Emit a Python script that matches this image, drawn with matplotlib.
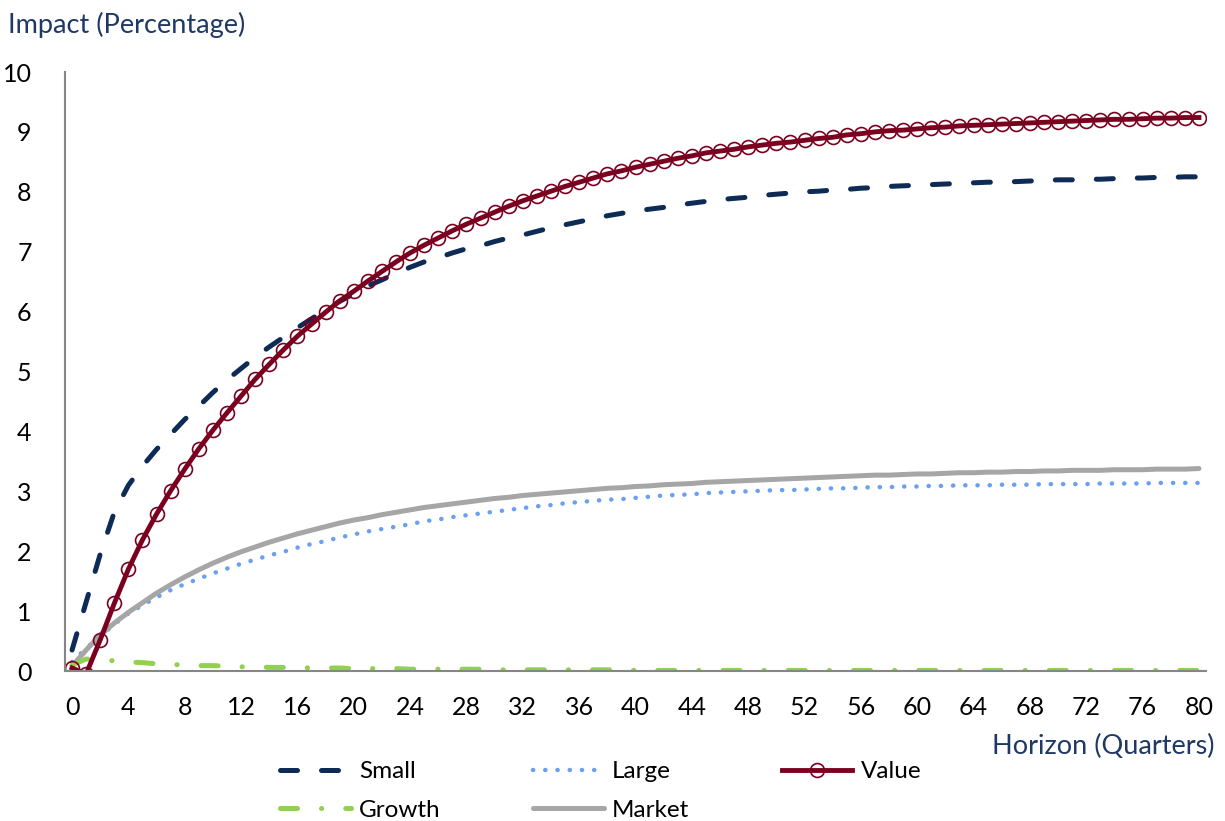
import matplotlib
matplotlib.use('Agg')
import matplotlib.pyplot as plt

quarters = list(range(81))
x_ticks = list(range(0, 81, 4))
y_ticks = list(range(0, 11))

small = [0.35, 1.15, 1.95, 2.65, 3.10, 3.42, 3.70, 3.95, 4.20, 4.42,
         4.65, 4.86, 5.05, 5.24, 5.41, 5.57, 5.73, 5.88, 6.03, 6.17,
         6.30, 6.43, 6.53, 6.64, 6.74, 6.83, 6.90, 6.98, 7.05, 7.10,
         7.17, 7.23, 7.28, 7.34, 7.40, 7.45, 7.50, 7.55, 7.60, 7.64,
         7.68, 7.71, 7.74, 7.78, 7.81, 7.84, 7.87, 7.89, 7.91, 7.94,
         7.96, 7.98, 8.00, 8.01, 8.03, 8.04, 8.06, 8.07, 8.09, 8.10,
         8.11, 8.12, 8.13, 8.14, 8.15, 8.16, 8.16, 8.17, 8.18, 8.19,
         8.20, 8.20, 8.21, 8.21, 8.22, 8.23, 8.23, 8.24, 8.24, 8.25,
         8.25]

large = [0.15, 0.38, 0.58, 0.78, 0.96, 1.10, 1.23, 1.35, 1.45, 1.54,
         1.63, 1.71, 1.79, 1.86, 1.93, 1.99, 2.06, 2.12, 2.17, 2.23,
         2.28, 2.33, 2.37, 2.41, 2.45, 2.50, 2.53, 2.57, 2.60, 2.63,
         2.66, 2.69, 2.72, 2.75, 2.77, 2.80, 2.82, 2.84, 2.86, 2.87,
         2.89, 2.91, 2.93, 2.94, 2.95, 2.97, 2.98, 2.99, 3.00, 3.01,
         3.02, 3.02, 3.03, 3.04, 3.05, 3.05, 3.06, 3.07, 3.07, 3.08,
         3.08, 3.09, 3.09, 3.10, 3.10, 3.10, 3.11, 3.11, 3.11, 3.12,
         3.12, 3.12, 3.12, 3.13, 3.13, 3.13, 3.13, 3.14, 3.14, 3.14,
         3.14]

value = [0.05, -0.05, 0.52, 1.13, 1.70, 2.19, 2.62, 3.01, 3.37, 3.71,
         4.02, 4.31, 4.59, 4.87, 5.12, 5.36, 5.59, 5.79, 5.99, 6.18,
         6.34, 6.51, 6.67, 6.83, 6.98, 7.11, 7.23, 7.35, 7.46, 7.56,
         7.66, 7.76, 7.85, 7.93, 8.01, 8.09, 8.16, 8.23, 8.30, 8.35,
         8.41, 8.46, 8.51, 8.56, 8.60, 8.65, 8.68, 8.71, 8.75, 8.78,
         8.81, 8.83, 8.86, 8.89, 8.91, 8.95, 8.97, 9.00, 9.02, 9.03,
         9.05, 9.07, 9.08, 9.10, 9.11, 9.12, 9.13, 9.14, 9.15, 9.16,
         9.17, 9.18, 9.19, 9.20, 9.21, 9.21, 9.22, 9.23, 9.23, 9.24,
         9.24]

growth = [0.10, 0.20, 0.19, 0.17, 0.15, 0.14, 0.12, 0.11, 0.10, 0.09,
          0.09, 0.08, 0.07, 0.07, 0.06, 0.06, 0.06, 0.05, 0.05, 0.05,
          0.04, 0.04, 0.04, 0.04, 0.03, 0.03, 0.03, 0.03, 0.03, 0.03,
          0.02, 0.02, 0.02, 0.02, 0.02, 0.02, 0.02, 0.02, 0.02, 0.02,
          0.01, 0.01, 0.01, 0.01, 0.01, 0.01, 0.01, 0.01, 0.01, 0.01,
          0.01, 0.01, 0.01, 0.01, 0.01, 0.01, 0.01, 0.01, 0.01, 0.01,
          0.01, 0.01, 0.01, 0.01, 0.01, 0.01, 0.01, 0.01, 0.01, 0.01,
          0.01, 0.01, 0.01, 0.01, 0.01, 0.01, 0.01, 0.01, 0.01, 0.01,
          0.01]

market = [0.08, 0.35, 0.60, 0.80, 0.98, 1.14, 1.30, 1.44, 1.57, 1.69,
          1.80, 1.90, 1.99, 2.07, 2.15, 2.22, 2.29, 2.35, 2.41, 2.47,
          2.52, 2.56, 2.61, 2.65, 2.69, 2.73, 2.76, 2.79, 2.82, 2.85,
          2.88, 2.90, 2.93, 2.95, 2.97, 2.99, 3.01, 3.03, 3.05, 3.06,
          3.08, 3.09, 3.11, 3.12, 3.13, 3.15, 3.16, 3.17, 3.18, 3.19,
          3.20, 3.21, 3.22, 3.23, 3.24, 3.25, 3.26, 3.27, 3.27, 3.28,
          3.29, 3.29, 3.30, 3.31, 3.31, 3.32, 3.32, 3.33, 3.33, 3.34,
          3.34, 3.35, 3.35, 3.35, 3.36, 3.36, 3.36, 3.37, 3.37, 3.37,
          3.38]

NAVY_TEXT = '#1f3864'
plt.rcParams['font.family'] = ['Lato', 'DejaVu Sans']

fig = plt.figure(figsize=(12.25, 8.21), dpi=100)
ax = fig.add_axes([65 / 1225, 1 - 671 / 821, (1206 - 65) / 1225, (671 - 72) / 821])

l_small, = ax.plot(quarters, small, color='#0d2b55', lw=3.6,
                   dashes=(3.4, 4.8), dash_capstyle='round', label='Small')
l_large, = ax.plot(quarters, large, color='#6a9ff2', lw=3.2,
                   dashes=(0.05, 2.7), dash_capstyle='round', label='Large')
l_market, = ax.plot(quarters, market, color='#a6a6a6', lw=3.6,
                    solid_capstyle='round', label='Market')
l_growth, = ax.plot(quarters, growth, color='#92d050', lw=3.6,
                    dashes=(3.4, 4.8, 0.05, 4.8), dash_capstyle='round', label='Growth')
l_value, = ax.plot(quarters, value, color='#7b0020', lw=3.5, marker='o',
                   markersize=10, markerfacecolor='none', markeredgewidth=1.2,
                   label='Value')

ax.set_xlim(-0.5, 80.5)
ax.set_ylim(0, 10)
ax.set_xticks(x_ticks)
ax.set_yticks(y_ticks)
ax.tick_params(length=0, labelsize=18)
ax.tick_params(axis='y', pad=24)
ax.tick_params(axis='x', pad=18)
for side in ['top', 'right']:
    ax.spines[side].set_visible(False)
for side in ['left', 'bottom']:
    ax.spines[side].set_color('#868686')
    ax.spines[side].set_linewidth(1.5)

fig.text(8 / 1225, 1 - 25 / 821, 'Impact (Percentage)', color=NAVY_TEXT,
         fontsize=19.5, ha='left', va='center')
fig.text(1215 / 1225, 1 - 746 / 821, 'Horizon (Quarters)', color=NAVY_TEXT,
         fontsize=19.5, ha='right', va='center')

# column-major order so rows read Small, Large, Value / Growth, Market
handles = [l_small, l_growth, l_large, l_market, l_value]
fig.legend(handles, [h.get_label() for h in handles], ncol=3,
           loc='upper left', bbox_to_anchor=(268 / 1225, 1 - 749 / 821),
           frameon=False, fontsize=17.5, handlelength=2.9, handletextpad=0.35,
           columnspacing=3.8, labelspacing=0.72, borderpad=0)

fig.savefig('out.png', dpi=100)
